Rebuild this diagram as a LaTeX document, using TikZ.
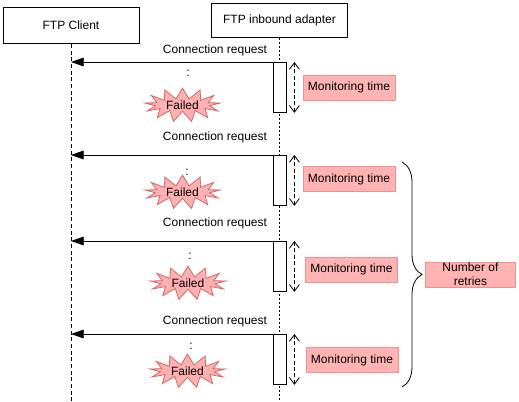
\documentclass[tikz,border=0pt]{standalone}
\usepackage{fontspec}
\setmainfont{Liberation Sans}
\usetikzlibrary{arrows.meta,positioning,shapes.symbols,decorations.pathreplacing}
\definecolor{rose}{HTML}{FFB3B3}
\definecolor{roseline}{HTML}{F09090}
\definecolor{burst}{HTML}{FFB0B0}
\definecolor{burstline}{HTML}{D06868}

\begin{document}
\begin{tikzpicture}[x=0.75pt, y=-0.75pt, line width=0.6pt,
  font=\fontsize{9}{10.5}\selectfont,
  actor/.style={draw, fill=white, minimum width=102pt, minimum height=27pt},
  life/.style={dash pattern=on 3pt off 2pt},
  dotlife/.style={dash pattern=on 1.5pt off 1.5pt},
  act/.style={draw, fill=white, minimum width=9.75pt, minimum height=37.5pt, anchor=north, inner sep=0pt},
  msg/.style={-{Triangle[length=9.5pt,width=6.5pt]}},
  span/.style={dash pattern=on 3pt off 1.8pt, {Straight Barb[length=5pt,width=7.5pt]}-{Straight Barb[length=5pt,width=7.5pt]}},
  tag/.style={draw=roseline, fill=rose, minimum width=69pt, minimum height=18.75pt, inner sep=0pt},
  fail/.style={starburst, random starburst=0, starburst points=13, starburst point height=8pt, draw=burstline, fill=burst, minimum width=57pt, minimum height=23pt, inner sep=0pt}
]
  \useasboundingbox (0,0) rectangle (519,401);
  \coordinate (bot) at (0,401);

  % actors and lifelines
  \node[actor] (client) at (71,25.5) {FTP Client};
  \node[actor, minimum height=26pt] (adapter) at (279.5,20.5) {FTP inbound adapter};
  \draw[life] (client.south) -- (client.south |- bot);
  \draw[dotlife] (adapter.south) -- (adapter.south |- bot);

  % activations
  \node[act] (a1) at (279.5,62) {};
  \node[act] (a2) at (279.5,155) {};
  \node[act] (a3) at (279.5,241) {};
  \node[act] (a4) at (279.5,334) {};

  % connection requests
  \node (r1) at (215,50) {Connection request};
  \node (r2) at (215,137) {Connection request};
  \node (r3) at (215,223) {Connection request};
  \node (r4) at (215,321) {Connection request};
  \draw[msg] (a1.north west) -- (a1.north west -| client.south);
  \draw[msg] (a2.north west) -- (a2.north west -| client.south);
  \draw[msg] (a3.north west) -- (a3.north west -| client.south);
  \draw[msg] (a4.north west) -- (a4.north west -| client.south);

  % failures
  \node (d1) at (188,73) {:};
  \node (d2) at (187,172) {:};
  \node (d3) at (190,256) {:};
  \node (d4) at (191,346) {:};
  \node[fail] (f1) at (182.5,105) {Failed};
  \node[fail] (f2) at (182.5,192) {Failed};
  \node[fail] (f3) at (188,283) {Failed};
  \node[fail] (f4) at (187.5,371) {Failed};

  % monitoring time
  \draw[span] ([xshift=6pt]a1.north east) -- ([xshift=6pt]a1.south east);
  \draw[span] ([xshift=6pt]a2.north east) -- ([xshift=6pt]a2.south east);
  \draw[span] ([xshift=6pt]a3.north east) -- ([xshift=6pt]a3.south east);
  \draw[span] ([xshift=6pt]a4.north east) -- ([xshift=6pt]a4.south east);
  \node[tag] (m1) at (349,87.5) {Monitoring time};
  \node[tag] (m2) at (349,179) {Monitoring time};
  \node[tag] (m3) at (351.5,269.5) {Monitoring time};
  \node[tag] (m4) at (352,360) {Monitoring time};

  % retries
  \coordinate (btop) at (402,162);
  \coordinate (bbot) at (402,387);
  \draw[decorate, decoration={brace, amplitude=15pt}] (btop) -- (bbot);
  \node[tag, minimum width=68pt, align=center] (retry) at (470.5,274.5) {Number of\\retries};
\end{tikzpicture}
\end{document}
